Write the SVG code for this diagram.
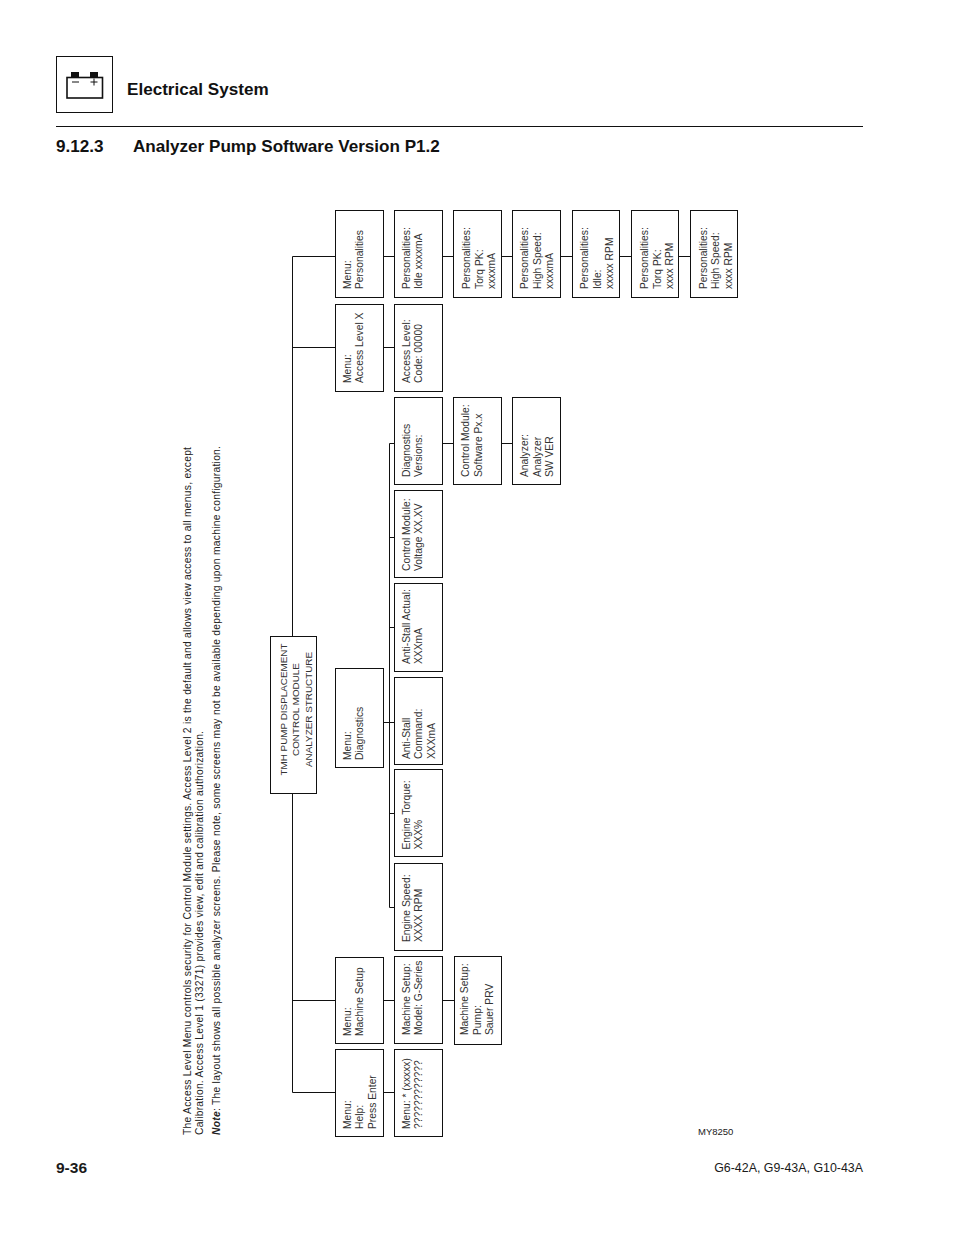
<svg xmlns="http://www.w3.org/2000/svg" width="954" height="1235" viewBox="0 0 954 1235">
<style>
text{font-family:"Liberation Sans",Arial,sans-serif;fill:#1a1a1a}
.b{fill:#fff;stroke:#111;stroke-width:1}
.c{fill:none;stroke:#111;stroke-width:1}
.t{font-size:10.300px;fill:#333}
.r{font-size:9.900px;fill:#333;text-anchor:middle}
.h{font-weight:bold;font-size:17.100px;fill:#111}
.n{font-size:10.300px;fill:#222}
</style>
<rect width="954" height="1235" fill="#fff"/>
<g id="header">
<rect x="56.500" y="56.500" width="56" height="56" fill="none" stroke="#111"/>
<rect x="67" y="77.500" width="35.500" height="20.500" fill="none" stroke="#111" stroke-width="1.600"/>
<rect x="71" y="72" width="8" height="5" fill="#111"/>
<rect x="90" y="72" width="8" height="5" fill="#111"/>
<path d="M72 82h7M90.500 82h7M94 78.500v7" fill="none" stroke="#111"/>
<text class="h" x="127" y="95">Electrical System</text>
<path d="M56 126.500H863" stroke="#111" fill="none"/>
<text class="h" x="56" y="152">9.12.3</text>
<text class="h" x="133" y="152">Analyzer Pump Software Version P1.2</text>
</g>
<g id="note">
<text class="n" transform="translate(190.500 1135) rotate(-90)" textLength="688">The Access Level Menu controls security for Control Module settings. Access Level 2 is the default and allows view access to all menus, except</text>
<text class="n" transform="translate(203 1135) rotate(-90)" textLength="404">Calibration. Access Level 1 (33271) provides view, edit and calibration authorization.</text>
<text class="n" transform="translate(219.500 1135) rotate(-90)" textLength="689"><tspan font-weight="bold" font-style="italic">Note</tspan>: The layout shows all possible analyzer screens. Please note, some screens may not be available depending upon machine configuration.</text>
</g>
<g id="connectors">
<path class="c" d="M292.500 256.500V1092.500M292.500 256.500H335.500M292.500 347.500H335.500M292.500 1000.500H335.500M292.500 1092.500H335.500"/>
<path class="c" d="M383.500 256.500H690.500M383.500 347.500H394.500M383.500 722.500H394.500M383.500 1000.500H454.500M383.500 1092.500H394.500"/>
<path class="c" d="M389.500 443.500V907.500M389.500 443.500H394.500M389.500 537.500H394.500M389.500 627.500H394.500M389.500 813.500H394.500M389.500 907.500H394.500M442.500 443.500H512.500"/>
</g>
<g id="root"><rect class="b" x="270.500" y="636.500" width="46" height="157"/>
<text class="r" transform="translate(286.500 709.500) rotate(-90)">TMH PUMP DISPLACEMENT</text><text class="r" transform="translate(299 709.500) rotate(-90)">CONTROL MODULE</text><text class="r" transform="translate(311.500 709.500) rotate(-90)">ANALYZER STRUCTURE</text></g>
<g id="menu-personalities"><rect class="b" x="335.500" y="210.500" width="48" height="87"/><text class="t" transform="translate(350.500 289) rotate(-90)"><tspan x="0" y="0">Menu:</tspan><tspan x="0" y="12.500">Personalities</tspan></text></g>
<g id="pers-1"><rect class="b" x="394.500" y="210.500" width="48" height="87"/><text class="t" transform="translate(409.500 289) rotate(-90)"><tspan x="0" y="0">Personalities:</tspan><tspan x="0" y="12.500">Idle xxxxmA</tspan></text></g>
<g id="pers-2"><rect class="b" x="453.500" y="210.500" width="48" height="87"/><text class="t" transform="translate(470 289) rotate(-90)"><tspan x="0" y="0">Personalities:</tspan><tspan x="0" y="12.500">Torq PK:</tspan><tspan x="0" y="25">xxxxmA</tspan></text></g>
<g id="pers-3"><rect class="b" x="512.500" y="210.500" width="48" height="87"/><text class="t" transform="translate(528 289) rotate(-90)"><tspan x="0" y="0">Personalities:</tspan><tspan x="0" y="12.500">High Speed:</tspan><tspan x="0" y="25">xxxxmA</tspan></text></g>
<g id="pers-4"><rect class="b" x="572.500" y="210.500" width="47" height="87"/><text class="t" transform="translate(588 289) rotate(-90)"><tspan x="0" y="0">Personalities:</tspan><tspan x="0" y="12.500">Idle:</tspan><tspan x="0" y="25">xxxxx RPM</tspan></text></g>
<g id="pers-5"><rect class="b" x="631.500" y="210.500" width="47" height="87"/><text class="t" transform="translate(648 289) rotate(-90)"><tspan x="0" y="0">Personalities:</tspan><tspan x="0" y="12.500">Torq PK:</tspan><tspan x="0" y="25">xxxx RPM</tspan></text></g>
<g id="pers-6"><rect class="b" x="690.500" y="210.500" width="47" height="87"/><text class="t" transform="translate(706.500 289) rotate(-90)"><tspan x="0" y="0">Personalities:</tspan><tspan x="0" y="12.500">High Speed:</tspan><tspan x="0" y="25">xxxx RPM</tspan></text></g>
<g id="menu-access"><rect class="b" x="335.500" y="304.500" width="48" height="87"/><text class="t" transform="translate(350.500 383) rotate(-90)"><tspan x="0" y="0">Menu:</tspan><tspan x="0" y="12.500">Access Level X</tspan></text></g>
<g id="access-code"><rect class="b" x="394.500" y="304.500" width="48" height="87"/><text class="t" transform="translate(409.500 383) rotate(-90)"><tspan x="0" y="0">Access Level:</tspan><tspan x="0" y="12.500">Code: 00000</tspan></text></g>
<g id="diag-versions"><rect class="b" x="394.500" y="397.500" width="48" height="87"/><text class="t" transform="translate(409.500 477) rotate(-90)"><tspan x="0" y="0">Diagnostics</tspan><tspan x="0" y="12.500">Versions:</tspan></text></g>
<g id="cm-software"><rect class="b" x="453.500" y="397.500" width="48" height="87"/><text class="t" transform="translate(469 477) rotate(-90)"><tspan x="0" y="0">Control Module:</tspan><tspan x="0" y="12.500">Software Px.x</tspan></text></g>
<g id="analyzer"><rect class="b" x="512.500" y="397.500" width="48" height="87"/><text class="t" transform="translate(528 477) rotate(-90)"><tspan x="0" y="0">Analyzer:</tspan><tspan x="0" y="12.500">Analyzer</tspan><tspan x="0" y="25">SW VER</tspan></text></g>
<g id="cm-voltage"><rect class="b" x="394.500" y="490.500" width="48" height="87"/><text class="t" transform="translate(409.500 571) rotate(-90)"><tspan x="0" y="0">Control Module:</tspan><tspan x="0" y="12.500">Voltage XX.XV</tspan></text></g>
<g id="anti-actual"><rect class="b" x="394.500" y="583.500" width="48" height="88"/><text class="t" transform="translate(409.500 664) rotate(-90)"><tspan x="0" y="0">Anti-Stall Actual:</tspan><tspan x="0" y="12.500">XXXmA</tspan></text></g>
<g id="menu-diagnostics"><rect class="b" x="335.500" y="668.500" width="48" height="99"/><text class="t" transform="translate(350.500 760) rotate(-90)"><tspan x="0" y="0">Menu:</tspan><tspan x="0" y="12.500">Diagnostics</tspan></text></g>
<g id="anti-command"><rect class="b" x="394.500" y="677.500" width="48" height="87"/><text class="t" transform="translate(409.500 759) rotate(-90)"><tspan x="0" y="0">Anti-Stall</tspan><tspan x="0" y="12.500">Command:</tspan><tspan x="0" y="25">XXXmA</tspan></text></g>
<g id="engine-torque"><rect class="b" x="394.500" y="769.500" width="48" height="87"/><text class="t" transform="translate(409.500 849.500) rotate(-90)"><tspan x="0" y="0">Engine Torque:</tspan><tspan x="0" y="12.500">XXX%</tspan></text></g>
<g id="engine-speed"><rect class="b" x="394.500" y="863.500" width="48" height="87"/><text class="t" transform="translate(409.500 942) rotate(-90)"><tspan x="0" y="0">Engine Speed:</tspan><tspan x="0" y="12.500">XXXX RPM</tspan></text></g>
<g id="menu-machine"><rect class="b" x="335.500" y="957.500" width="48" height="86"/><text class="t" transform="translate(350.500 1036) rotate(-90)"><tspan x="0" y="0">Menu:</tspan><tspan x="0" y="12.500">Machine Setup</tspan></text></g>
<g id="machine-model"><rect class="b" x="394.500" y="956.500" width="48" height="87"/><text class="t" transform="translate(409.500 1035) rotate(-90)"><tspan x="0" y="0">Machine Setup:</tspan><tspan x="0" y="12.500">Model: G-Series</tspan></text></g>
<g id="machine-pump"><rect class="b" x="454.500" y="956.500" width="47" height="88"/><text class="t" transform="translate(468 1035) rotate(-90)"><tspan x="0" y="0">Machine Setup:</tspan><tspan x="0" y="12.500">Pump:</tspan><tspan x="0" y="25">Sauer PRV</tspan></text></g>
<g id="menu-help"><rect class="b" x="335.500" y="1049.500" width="48" height="87"/><text class="t" transform="translate(350.500 1129) rotate(-90)"><tspan x="0" y="0">Menu:</tspan><tspan x="0" y="12.500">Help:</tspan><tspan x="0" y="25">Press Enter</tspan></text></g>
<g id="menu-star"><rect class="b" x="394.500" y="1049.500" width="48" height="87"/><text class="t" transform="translate(409.500 1129) rotate(-90)"><tspan x="0" y="0">Menu: * (xxxxx)</tspan><tspan x="0" y="12.500">????????????</tspan></text></g>
<g id="footer">
<text x="698" y="1135" font-size="9.500" fill="#222">MY8250</text>
<text x="56" y="1173" font-size="15.500" font-weight="bold" fill="#111">9-36</text>
<text x="863" y="1172" font-size="12.400" text-anchor="end" fill="#222">G6-42A, G9-43A, G10-43A</text>
</g>
</svg>
